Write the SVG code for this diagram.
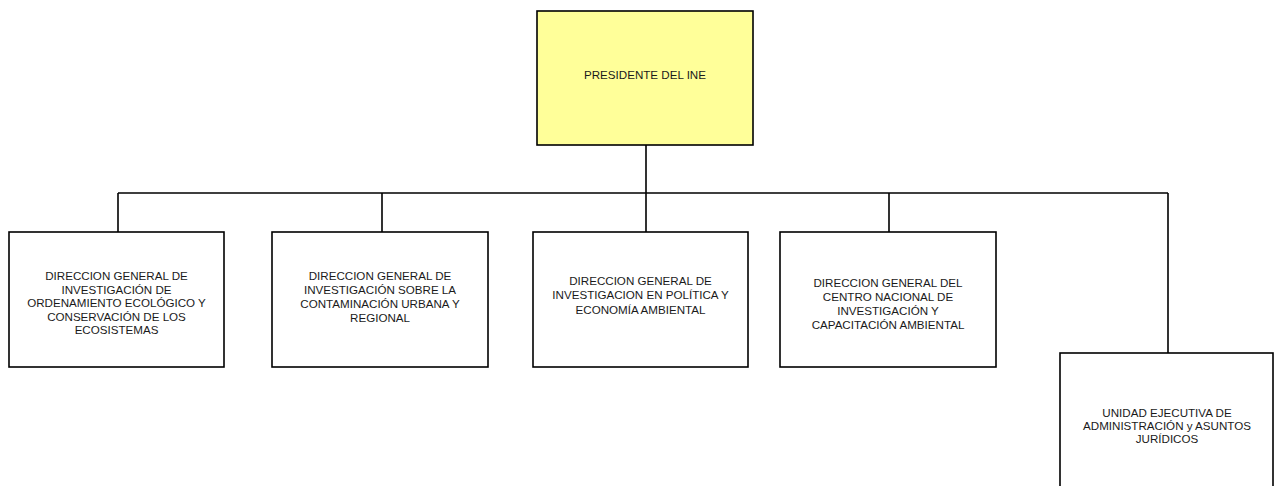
<svg xmlns="http://www.w3.org/2000/svg" width="1275" height="486" viewBox="0 0 1275 486">
<style>
rect.box{fill:#ffffff;stroke:#000;stroke-width:1.6}
rect.top{fill:#ffff99}
text{font-family:"Liberation Sans",Arial,sans-serif;font-size:11.6px;fill:#1a1a1a;text-anchor:middle}
.conn{fill:none;stroke:#000;stroke-width:1.6}
</style>
<rect width="1275" height="486" fill="#ffffff"/>
<g id="connectors">
<path class="conn" d="M646,145 V193 M118,193 H1168 M118,193 V232 M382,193 V232 M646,193 V232 M889,193 V232 M1168,193 V353"/>
</g>
<g id="presidente">
<rect class="box top" x="537" y="11" width="216" height="134"/>
<text x="645" y="79">PRESIDENTE DEL INE</text>
</g>
<g id="dg-ordenamiento">
<rect class="box" x="9" y="232" width="215" height="135"/>
<text x="116.5"><tspan x="116.5" y="280">DIRECCION GENERAL DE</tspan><tspan x="116.5" y="293.5">INVESTIGACIÓN DE</tspan><tspan x="116.5" y="307">ORDENAMIENTO ECOLÓGICO Y</tspan><tspan x="116.5" y="320.5">CONSERVACIÓN DE LOS</tspan><tspan x="116.5" y="334">ECOSISTEMAS</tspan></text>
</g>
<g id="dg-contaminacion">
<rect class="box" x="272" y="232" width="216" height="135"/>
<text x="380"><tspan x="380" y="280">DIRECCION GENERAL DE</tspan><tspan x="380" y="294">INVESTIGACIÓN SOBRE LA</tspan><tspan x="380" y="308">CONTAMINACIÓN URBANA  Y</tspan><tspan x="380" y="322">REGIONAL</tspan></text>
</g>
<g id="dg-politica">
<rect class="box" x="533" y="232" width="215" height="135"/>
<text x="640.5"><tspan x="640.5" y="284.5">DIRECCION GENERAL DE</tspan><tspan x="640.5" y="299">INVESTIGACION EN POLÍTICA Y</tspan><tspan x="640.5" y="313.5">ECONOMÍA AMBIENTAL</tspan></text>
</g>
<g id="dg-cenica">
<rect class="box" x="780" y="232" width="216" height="135"/>
<text x="888"><tspan x="888" y="287">DIRECCION GENERAL DEL</tspan><tspan x="888" y="301">CENTRO NACIONAL DE</tspan><tspan x="888" y="315">INVESTIGACIÓN Y</tspan><tspan x="888" y="328.5">CAPACITACIÓN AMBIENTAL</tspan></text>
</g>
<g id="unidad-ejecutiva">
<rect class="box" x="1060" y="353" width="213" height="150"/>
<text x="1167"><tspan x="1167" y="417">UNIDAD EJECUTIVA DE</tspan><tspan x="1167" y="430">ADMINISTRACIÓN y ASUNTOS</tspan><tspan x="1167" y="443">JURÍDICOS</tspan></text>
</g>
</svg>
